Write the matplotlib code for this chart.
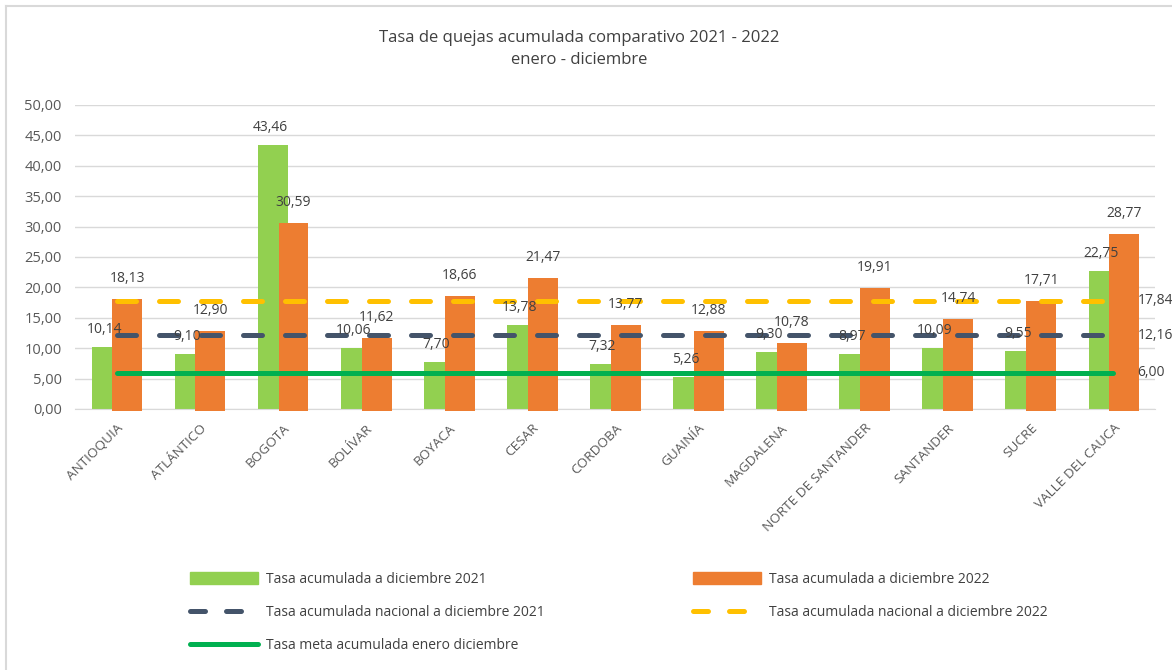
import numpy as np
import matplotlib
matplotlib.use("Agg")
import matplotlib.pyplot as plt
from matplotlib.lines import Line2D
from matplotlib.patches import Patch

plt.rcParams['font.family'] = ['Open Sans', 'DejaVu Sans']

departamentos = ['ANTIOQUIA', 'ATLÁNTICO', 'BOGOTA', 'BOLÍVAR', 'BOYACA', 'CESAR',
                 'CORDOBA', 'GUAINÍA', 'MAGDALENA', 'NORTE DE SANTANDER',
                 'SANTANDER', 'SUCRE', 'VALLE DEL CAUCA']
tasa_2021 = [10.14, 9.10, 43.46, 10.06, 7.70, 13.78, 7.32, 5.26, 9.30, 8.97, 10.09, 9.55, 22.75]
tasa_2022 = [18.13, 12.90, 30.59, 11.62, 18.66, 21.47, 13.77, 12.88, 10.78, 19.91, 14.74, 17.71, 28.77]
nacional_2021 = 12.16
nacional_2022 = 17.84
meta = 6.00

VERDE = '#92D050'
NARANJA = '#ED7D31'
AZUL = '#44546A'
AMARILLO = '#FFC000'
VERDE_META = '#00B050'
TEXTO = '#404040'


def coma(v):
    return f'{v:.2f}'.replace('.', ',')


fig = plt.figure(figsize=(11.72, 6.70), dpi=100)
ax = fig.add_axes([75 / 1172, 1 - 409 / 670, (1155 - 75) / 1172, (409 - 105) / 670])

x = np.arange(len(departamentos))
w = 0.36
ax.bar(x - 0.12, tasa_2021, w, color=VERDE, zorder=2)
ax.bar(x + 0.13, tasa_2022, w, color=NARANJA, zorder=3)
# el borde naranja asoma un poco bajo el eje
ax.bar(x + 0.13, [-0.3] * len(x), w, color=NARANJA, zorder=3, clip_on=False)

n = len(departamentos)
lw = 3.6
ax.plot(x, [nacional_2022] * n, color=AMARILLO, lw=lw, dashes=(3.8, 4.6),
        dash_capstyle='round', zorder=4)
ax.plot(x, [nacional_2021] * n, color=AZUL, lw=lw, dashes=(3.8, 4.6),
        dash_capstyle='round', zorder=4)
ax.plot(x, [meta] * n, color=VERDE_META, lw=lw, solid_capstyle='round', zorder=4)

for i in range(n):
    ax.annotate(coma(tasa_2021[i]), (x[i] - 0.15, tasa_2021[i]), xytext=(0, 10),
                textcoords='offset pixels', ha='center', va='bottom', fontsize=10, color=TEXTO, zorder=5)
    ax.annotate(coma(tasa_2022[i]), (x[i] + 0.13, tasa_2022[i]), xytext=(0, 13),
                textcoords='offset pixels', ha='center', va='bottom', fontsize=10, color=TEXTO, zorder=5)

for v in [nacional_2022, nacional_2021, meta]:
    ax.annotate(coma(v), (x[-1], v), xytext=(24, 0), textcoords='offset pixels',
                ha='left', va='center', fontsize=10, color=TEXTO, annotation_clip=False)

ax.set_xlim(-0.5, n - 0.5)
ax.set_ylim(0, 50)
ax.set_yticks(np.arange(0, 51, 5))
ax.set_yticklabels([coma(v) for v in np.arange(0, 51, 5)], color='#595959', fontsize=10.5)
ax.set_xticks(x)
ax.set_xticklabels(departamentos, rotation=45, ha='right', rotation_mode='anchor',
                   color='#595959', fontsize=9.7)
ax.tick_params(axis='y', length=0, pad=9.5)
ax.tick_params(axis='x', length=0, pad=9)
ax.grid(axis='y', color='#D9D9D9', lw=1, zorder=0)
ax.set_axisbelow(True)
for s in ['top', 'right', 'left']:
    ax.spines[s].set_visible(False)
ax.spines['bottom'].set_color('#D9D9D9')

fig.text(579 / 1172, 1 - 38 / 670, 'Tasa de quejas acumulada comparativo 2021 - 2022',
         ha='center', va='center', fontsize=12, color=TEXTO)
fig.text(579 / 1172, 1 - 60 / 670, 'enero - diciembre', ha='center', va='center',
         fontsize=12, color=TEXTO)

dash_leg = (3.0, 4.2)
col1 = [
    Patch(color=VERDE, label='Tasa acumulada a diciembre 2021'),
    Line2D([], [], color=AZUL, lw=lw, dashes=dash_leg, dash_capstyle='round',
           label='Tasa acumulada nacional a diciembre 2021'),
    Line2D([], [], color=VERDE_META, lw=lw, solid_capstyle='round',
           label='Tasa meta acumulada enero diciembre'),
]
col2 = [
    Patch(color=NARANJA, label='Tasa acumulada a diciembre 2022'),
    Line2D([], [], color=AMARILLO, lw=lw, dashes=dash_leg, dash_capstyle='round',
           label='Tasa acumulada nacional a diciembre 2022'),
]
opts = dict(loc='upper left', frameon=False, fontsize=10, handlelength=4.9, handleheight=0.9,
            handletextpad=0.55, labelspacing=1.3, labelcolor=TEXTO, borderpad=0, borderaxespad=0)
fig.legend(handles=col1, bbox_to_anchor=(190 / 1172, 1 - 572 / 670), **opts)
fig.legend(handles=col2, bbox_to_anchor=(693 / 1172, 1 - 572 / 670), **opts)

fig.add_artist(Line2D([5.5 / 1172, 5.5 / 1172], [0, 1 - 5.5 / 670], color='#D9D9D9', lw=1.5))
fig.add_artist(Line2D([5.5 / 1172, 1], [1 - 5.5 / 670, 1 - 5.5 / 670], color='#D9D9D9', lw=1.5))

fig.savefig('out.png', dpi=100)
